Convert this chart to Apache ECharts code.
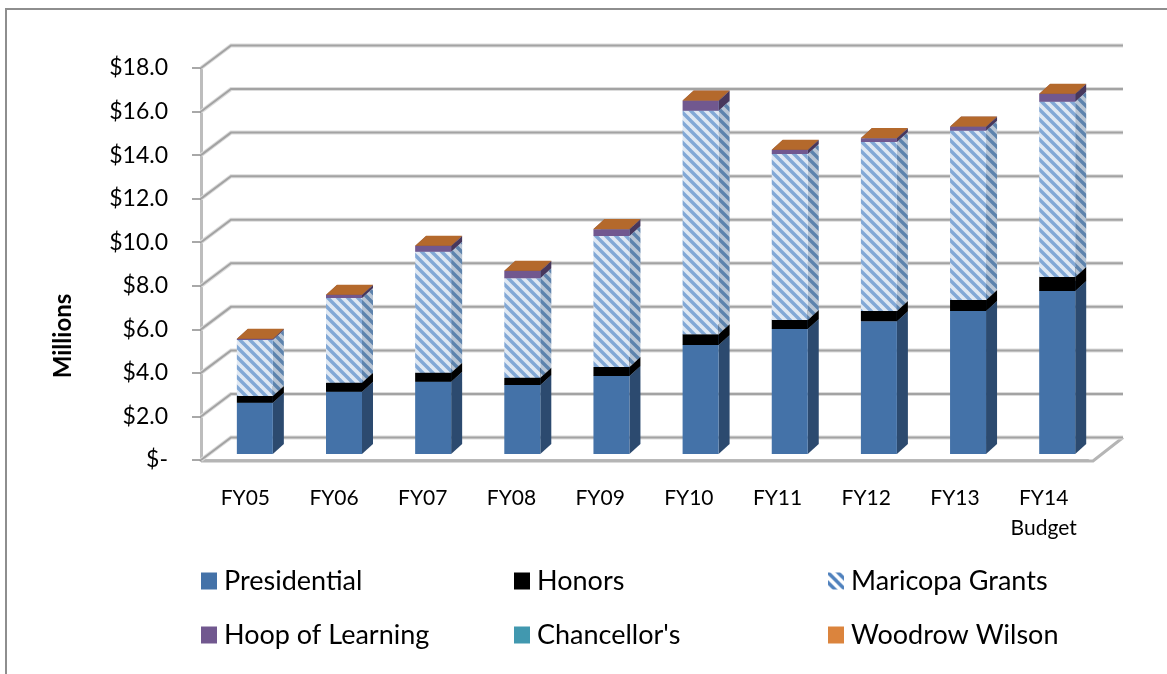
<!DOCTYPE html>
<html>
<head>
<meta charset="utf-8">
<style>html,body{margin:0;padding:0;background:#fff}#chart{width:1167px;height:674px}</style>
<script src="https://cdn.jsdelivr.net/npm/echarts@6/dist/echarts.min.js"></script>
</head>
<body>
<div id="chart"></div>
<script>
// Scholarship funding by fiscal year, in millions of dollars
const categories = ['FY05', 'FY06', 'FY07', 'FY08', 'FY09', 'FY10', 'FY11', 'FY12', 'FY13', 'FY14\nBudget'];
const presidential = [2.35, 2.86, 3.32, 3.17, 3.58, 5.0, 5.74, 6.1, 6.57, 7.48];
const honors = [0.31, 0.41, 0.41, 0.33, 0.42, 0.5, 0.41, 0.47, 0.5, 0.65];
const maricopaGrants = [2.57, 3.89, 5.56, 4.57, 6.01, 10.26, 7.62, 7.76, 7.77, 8.04];
const hoopOfLearning = [0.05, 0.14, 0.26, 0.33, 0.31, 0.46, 0.19, 0.17, 0.19, 0.36];
const chancellors = [0, 0, 0, 0, 0, 0, 0, 0, 0, 0];
const woodrowWilson = [0.01, 0.01, 0.01, 0.01, 0.01, 0.01, 0.01, 0.01, 0.01, 0.01];
const yTickValues = [0, 2, 4, 6, 8, 10, 12, 14, 16, 18];
const yTickLabels = ['$-', '$2.0', '$4.0', '$6.0', '$8.0', '$10.0', '$12.0', '$14.0', '$16.0', '$18.0'];

const FONT = 'Lato';
// Oblique projection of the 3D walls and the column boxes
const WALL_DX = 30, WALL_DY = 22.5;
const BAR_W = 36, BAR_DX = 11, BAR_DY = 10, BAR_INSET_X = 9.5, BAR_INSET_Y = 6, BAR_DRIFT = 0.45;

function stripes(bg, fg) {
  const s = 10, c = document.createElement('canvas');
  c.width = c.height = s;
  const g = c.getContext('2d');
  g.fillStyle = bg; g.fillRect(0, 0, s, s);
  g.strokeStyle = fg; g.lineWidth = 3.4; g.lineCap = 'square';
  for (let i = -s; i <= s; i += s) {
    g.beginPath(); g.moveTo(i, 0); g.lineTo(i + s, s); g.stroke();
  }
  return { image: c, repeat: 'repeat' };
}

const palette = [
  { name: 'Presidential', values: presidential, front: '#4472a8', side: '#2c4a6f', top: '#3a6292' },
  { name: 'Honors', values: honors, front: '#000000', side: '#000000', top: '#000000' },
  { name: 'Maricopa Grants', values: maricopaGrants,
    front: stripes('#dfe8f3', '#82a8d6'), side: stripes('#b8c5d5', '#5d83ad'), top: '#8fb0d8',
    icon: stripes('#ffffff', '#4f81bd') },
  { name: 'Hoop of Learning', values: hoopOfLearning, front: '#71588f', side: '#47375c', top: '#5f4a79' },
  { name: "Chancellor's", values: chancellors, front: '#4198af', side: '#2a6373', top: '#4198af' },
  { name: 'Woodrow Wilson', values: woodrowWilson, front: '#b4692c', side: '#7c4a20', top: '#b4692c', icon: '#db843d' }
];

function poly(points, fill) {
  return { type: 'polygon', shape: { points }, style: { fill, stroke: null } };
}

function renderBox(p) {
  return function (params, api) {
    const cat = api.value(0), hi = api.value(1), lo = api.value(2);
    if (hi === lo) return null;
    const a = api.coord([cat, hi]), b = api.coord([cat, lo]);
    const x = a[0] - BAR_W / 2 + BAR_INSET_X + cat * BAR_DRIFT;
    const yt = a[1] - BAR_INSET_Y, yb = b[1] - BAR_INSET_Y;
    const r = x + BAR_W;
    return {
      type: 'group',
      children: [
        poly([[r, yt], [r + BAR_DX, yt - BAR_DY], [r + BAR_DX, yb - BAR_DY], [r, yb]], p.side),
        poly([[x, yt], [x + BAR_DX, yt - BAR_DY], [r + BAR_DX, yt - BAR_DY], [r, yt]], p.top),
        poly([[x, yt], [r, yt], [r, yb], [x, yb]], p.front)
      ]
    };
  };
}

const running = categories.map(() => 0);
const barSeries = palette.map(p => {
  const data = p.values.map((v, i) => {
    const lo = running[i];
    running[i] += v;
    return [i, running[i], lo];
  });
  return {
    name: p.name,
    type: 'custom',
    coordinateSystem: 'cartesian2d',
    encode: { x: 0, y: 1 },
    itemStyle: { color: p.icon || p.front },
    renderItem: renderBox(p),
    data,
    z: 5
  };
});

// Floor of the chart box and the gridlines running along the side and back walls
const floorSeries = {
  type: 'custom',
  coordinateSystem: 'cartesian2d',
  silent: true,
  z: 1,
  data: [[0, 0]],
  encode: { x: 0, y: 1 },
  renderItem: function (params, api) {
    const step = api.size([1, 0])[0];
    const p = api.coord([0, 0]);
    const left = p[0] - step / 2, right = left + step * categories.length + 5, y = p[1];
    return {
      type: 'polyline',
      shape: { points: [[left, y + 1], [right, y + 1], [right + WALL_DX, y - WALL_DY]] },
      style: { stroke: '#b5b5b5', lineWidth: 3, fill: null }
    };
  }
};
const wallSeries = {
  type: 'custom',
  coordinateSystem: 'cartesian2d',
  silent: true,
  z: 2,
  data: yTickValues.map(v => [0, v]),
  encode: { x: 0, y: 1 },
  renderItem: function (params, api) {
    const step = api.size([1, 0])[0];
    const p = api.coord([0, api.value(1)]);
    const left = p[0] - step / 2, y = p[1];
    const right = left + step * categories.length + 5 + WALL_DX;
    const points = [[left, y], [left + WALL_DX, y - WALL_DY], [right, y - WALL_DY]];
    return {
      type: 'group',
      children: [
        { type: 'polyline', shape: { points }, style: { stroke: '#dcdcdc', lineWidth: 4, fill: null } },
        { type: 'polyline', shape: { points }, style: { stroke: '#a3a3a3', lineWidth: 2, fill: null } }
      ]
    };
  }
};

function legendColumn(left, names) {
  return {
    left, top: 561, orient: 'vertical', itemGap: 24, itemWidth: 16, itemHeight: 17,
    selectedMode: false,
    textStyle: { fontFamily: FONT, fontSize: 27, lineHeight: 30, color: '#000', padding: [0, 0, 0, 2] },
    data: names.map(n => {
      const p = palette.find(q => q.name === n);
      return { name: n, icon: 'rect', itemStyle: { color: p.icon || p.front } };
    })
  };
}

const chart = echarts.init(document.getElementById('chart'), null, { renderer: 'canvas' });
chart.setOption({
  animation: false,
  backgroundColor: '#ffffff',
  grid: { left: 201, top: 68, width: 887, height: 392 },
  xAxis: {
    type: 'category',
    data: categories,
    axisLine: { lineStyle: { color: '#bdbdbd', width: 3 } },
    axisTick: { alignWithLabel: false, length: 10, lineStyle: { color: '#8c8c8c', width: 1.5 } },
    axisLabel: { fontFamily: FONT, fontSize: 21, color: '#000', margin: 23, lineHeight: 30, interval: 0 }
  },
  yAxis: {
    type: 'value',
    min: 0,
    max: 18,
    interval: 2,
    splitLine: { show: false },
    axisLine: { show: true, lineStyle: { color: '#bdbdbd', width: 3 } },
    axisTick: { show: true, length: 9, lineStyle: { color: '#8c8c8c', width: 1.5 } },
    axisLabel: {
      fontFamily: FONT, fontSize: 23, color: '#000', margin: 33, padding: [6, 0, 0, 0],
      formatter: v => yTickLabels[yTickValues.indexOf(v)]
    }
  },
  legend: [
    legendColumn(196, ['Presidential', 'Hoop of Learning']),
    legendColumn(509, ['Honors', "Chancellor's"]),
    legendColumn(823, ['Maricopa Grants', 'Woodrow Wilson'])
  ],
  graphic: [{
    type: 'polyline',
    silent: true,
    z: 0,
    shape: { points: [[6, 674], [6, 9], [1167, 9]] },
    style: { stroke: '#8e8e8e', lineWidth: 2, fill: null }
  }, {
    type: 'text',
    silent: true,
    x: 63,
    y: 336,
    rotation: Math.PI / 2,
    style: {
      text: 'Millions', fontFamily: FONT, fontSize: 24, fontWeight: 'bold', fill: '#000',
      align: 'center', verticalAlign: 'middle'
    }
  }],
  series: [floorSeries, wallSeries].concat(barSeries)
});
</script>
</body>
</html>
